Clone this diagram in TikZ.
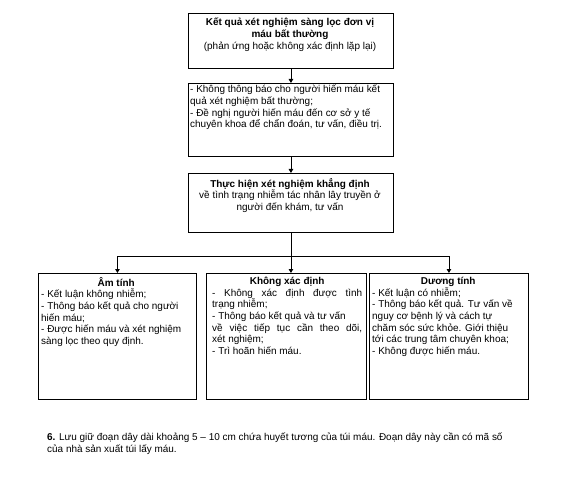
\documentclass[tikz,border=0pt]{standalone}
\usepackage{fontspec}
\setmainfont{Liberation Sans}
\usetikzlibrary{arrows.meta}
\begin{document}
\begin{tikzpicture}[x=1bp,y=-1bp,
  box/.style={draw,line width=0.9bp,anchor=north west,inner sep=0pt},
  txt/.style={inner sep=0pt,font=\fontsize{10}{11.7}\selectfont},
  ctxt/.style={txt,anchor=north,align=center},
  ltxt/.style={txt,anchor=north west,align=left},
  arr/.style={-{Triangle[length=4bp,width=4.5bp]},line width=0.8bp},
  ln/.style={line width=0.8bp}]
\useasboundingbox[fill=white] (0,0) rectangle (564,481);
% boxes
\node[box,minimum width=205bp,minimum height=55bp] (b1) at (188,13) {};
\node[box,minimum width=205bp,minimum height=73bp] (b2) at (188,83) {};
\node[box,minimum width=205bp,minimum height=59bp] (b3) at (188,173) {};
\node[box,minimum width=158bp,minimum height=126bp] (bl) at (38,273) {};
\node[box,minimum width=160bp,minimum height=126bp] (bm) at (206,273) {};
\node[box,minimum width=159bp,minimum height=126bp] (br) at (369,273) {};
% texts
\node[ctxt] (t1) at (290,18) {\textbf{Kết quả xét nghiệm sàng lọc đơn vị}\\\textbf{máu bất thường}\\(phản ứng hoặc không xác định lặp lại)};
\node[ltxt] (t2) at (190,85) {- Không thông báo cho người hiến máu kết\\quả xét nghiệm bất thường;\\- Đề nghị người hiến máu đến cơ sở y tế\\chuyên khoa để chẩn đoán, tư vấn, điều trị.};
\node[ctxt] (t3) at (290,178) {\textbf{Thực hiện xét nghiệm khẳng định}\\về tình trạng nhiễm tác nhân lây truyền ở\\người đến khám, tư vấn};
\node[ltxt] (tl) at (41,277) {\makebox[150bp][c]{\textbf{Âm tính}}\\- Kết luận không nhiễm;\\- Thông báo kết quả cho người\\hiến máu;\\- Được hiến máu và xét nghiệm\\sàng lọc theo quy định.};
\node[ltxt] (tm) at (212,277) {\makebox[150bp][c]{\textbf{Không xác định}}\\\makebox[150bp][s]{- Không xác định được tình}\\trạng nhiễm;\\- Thông báo kết quả và tư vấn\\\makebox[150bp][s]{về việc tiếp tục cần theo dõi,}\\xét nghiệm;\\- Trì hoãn hiến máu.};
\node[ltxt] (tr) at (372,277) {\makebox[152bp][c]{\textbf{Dương tính}}\\- Kết luận có nhiễm;\\- Thông báo kết quả. Tư vấn về\\nguy cơ bệnh lý và cách tự\\chăm sóc sức khỏe. Giới thiệu\\tới các trung tâm chuyên khoa;\\- Không được hiến máu.};
\node[ltxt] (note) at (47,433) {\textbf{6.} Lưu giữ đoạn dây dài khoảng 5 – 10 cm chứa huyết tương của túi máu. Đoạn dây này cần có mã số\\của nhà sản xuất túi lấy máu.};
% connectors
\draw[arr] (b1.south) -- (b2.north);
\draw[arr] (b2.south) -- (b3.north);
\coordinate (hl) at (bl.north |- 0,256);
\coordinate (hr) at (br.north |- 0,256);
\coordinate (hm) at (b3.south |- 0,256);
\draw[ln] (hl) -- (hr);
\draw[ln] (b3.south) -- (hm);
\draw[arr] (hl) -- (bl.north);
\draw[arr] (hm) -- (hm |- bm.north);
\draw[arr] (hr) -- (br.north);
\end{tikzpicture}
\end{document}
